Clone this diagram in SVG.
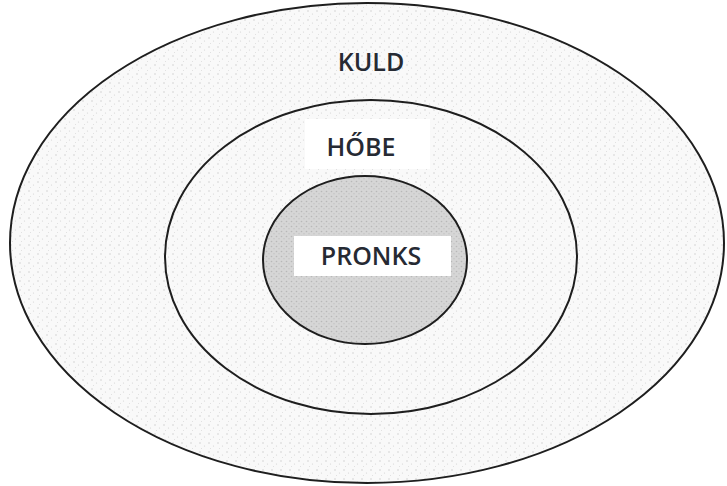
<svg xmlns="http://www.w3.org/2000/svg" width="727" height="486" viewBox="0 0 727 486">
<defs>
<pattern id="dots" width="9" height="9" patternUnits="userSpaceOnUse">
<rect width="9" height="9" fill="#f9f9f9"/>
<circle cx="2" cy="2" r="0.7" fill="#c8c8c8"/>
<circle cx="6.5" cy="5" r="0.6" fill="#d4d4d4"/>
<circle cx="3.5" cy="7.5" r="0.5" fill="#dadada"/>
</pattern>
<pattern id="dense" width="5" height="5" patternUnits="userSpaceOnUse">
<rect width="5" height="5" fill="#d6d6d6"/>
<circle cx="1.5" cy="1.5" r="0.8" fill="#b8b8b8"/>
<circle cx="4" cy="3.8" r="0.7" fill="#c2c2c2"/>
</pattern>
</defs>
<style>
.ring{stroke:#1e1e1e;stroke-width:2}
.lbl{font-family:"Open Sans","Liberation Sans",sans-serif;font-size:25px;font-weight:600;fill:#262a33;text-anchor:middle}
</style>
<rect width="727" height="486" fill="#ffffff"/>
<g id="kuld">
<ellipse class="ring" cx="367" cy="243" rx="357" ry="240" fill="url(#dots)"/>
<text class="lbl" x="371" y="71">KULD</text>
</g>
<g id="hobe">
<ellipse class="ring" cx="371" cy="257" rx="206" ry="157" fill="url(#dots)"/>
<rect x="305" y="119" width="125" height="50" fill="#ffffff"/>
<text class="lbl" x="361" y="156">HŐBE</text>
</g>
<g id="pronks">
<ellipse class="ring" cx="365" cy="260" rx="102" ry="84" fill="url(#dense)"/>
<rect x="294" y="236" width="157" height="40" fill="#ffffff"/>
<text class="lbl" x="371" y="265" font-size="22">PRONKS</text>
</g>
</svg>
